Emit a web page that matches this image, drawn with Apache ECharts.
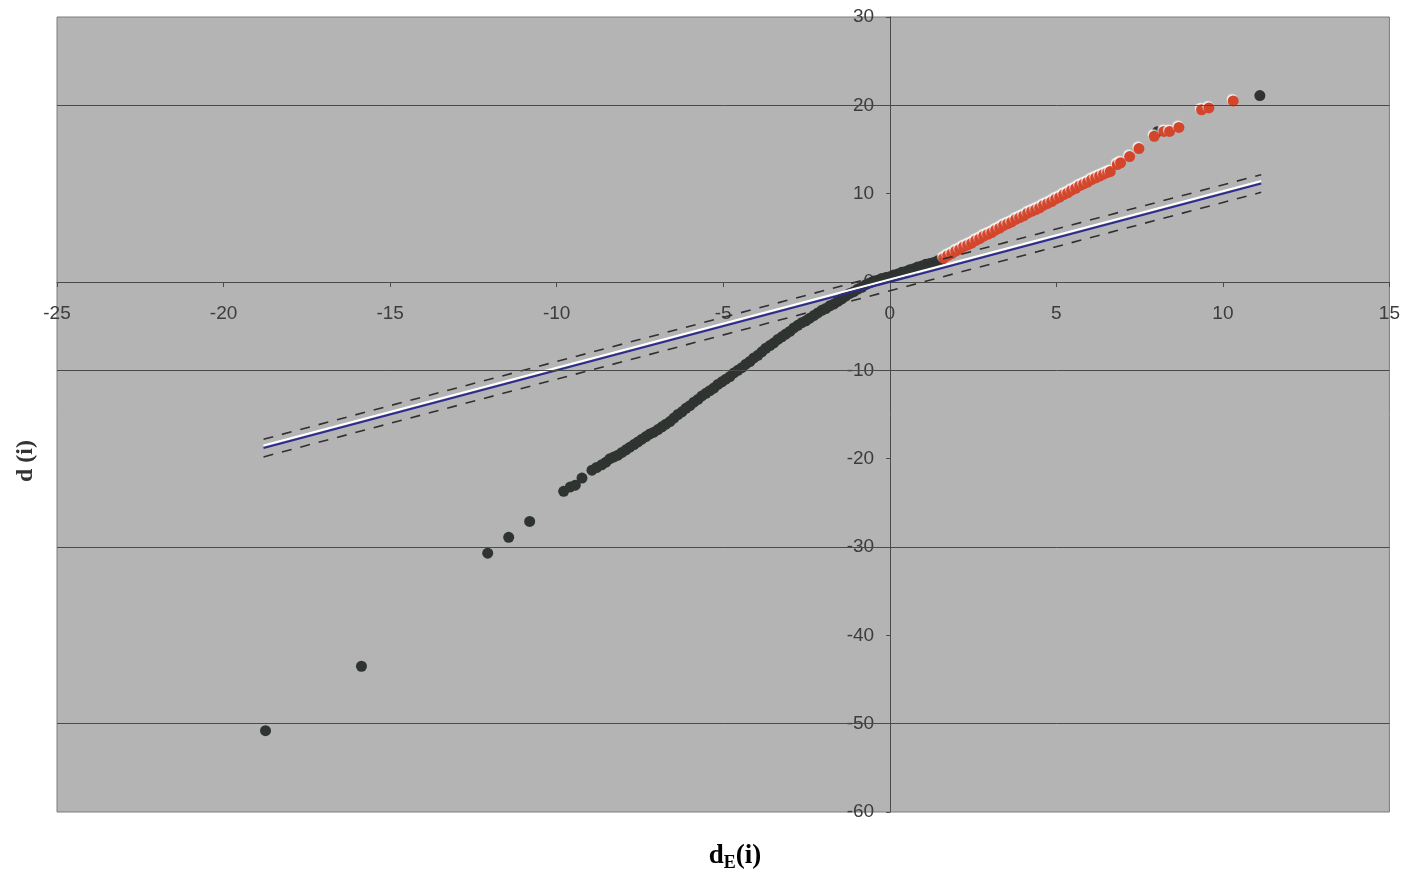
<!DOCTYPE html>
<html>
<head>
<meta charset="utf-8">
<script src="https://cdn.jsdelivr.net/npm/echarts@6/dist/echarts.min.js"></script>
<style>
  html, body { margin: 0; padding: 0; background: #ffffff; }
  #chart { width: 1403px; height: 872px; }
</style>
</head>
<body>
<div id="chart"></div>
<script>
// pontos escuros (d_E(i), d(i))
const darkPoints = [
  [-18.74, -50.8], [-15.86, -43.5], [-12.07, -30.7], [-11.44, -28.9], [-10.81, -27.1],
  [-9.79, -23.7], [-9.59, -23.2], [-9.44, -23.0], [-9.24, -22.2], [-8.94, -21.3],
  [-8.80, -21.0], [-8.65, -20.7], [-8.52, -20.4],
  [-8.40, -20.0], [-8.28, -19.8], [-8.16, -19.6], [-8.04, -19.3], [-7.92, -19.0],
  [-7.80, -18.7], [-7.68, -18.4], [-7.56, -18.1], [-7.44, -17.8], [-7.32, -17.5],
  [-7.20, -17.2], [-7.08, -17.0], [-6.96, -16.7], [-6.84, -16.4], [-6.72, -16.1],
  [-6.60, -15.8], [-6.48, -15.4], [-6.36, -15.0], [-6.24, -14.7], [-6.12, -14.3],
  [-6.00, -14.0], [-5.88, -13.6], [-5.76, -13.3], [-5.64, -12.9], [-5.52, -12.6],
  [-5.40, -12.3], [-5.28, -12.0], [-5.16, -11.6], [-5.04, -11.3], [-4.92, -11.0],
  [-4.80, -10.7], [-4.68, -10.3], [-4.56, -10.0], [-4.44, -9.7], [-4.32, -9.3],
  [-4.20, -9.0], [-4.08, -8.6], [-3.96, -8.3], [-3.84, -7.9], [-3.72, -7.5],
  [-3.60, -7.2], [-3.48, -6.9], [-3.36, -6.5], [-3.24, -6.2], [-3.12, -5.9],
  [-3.00, -5.6], [-2.88, -5.2], [-2.76, -4.9], [-2.64, -4.6], [-2.52, -4.4],
  [-2.40, -4.1], [-2.28, -3.8], [-2.16, -3.5], [-2.04, -3.2], [-1.92, -3.0],
  [-1.80, -2.7], [-1.68, -2.5], [-1.56, -2.2], [-1.44, -1.9], [-1.32, -1.6],
  [-1.20, -1.3], [-1.08, -1.1], [-0.96, -0.8], [-0.84, -0.6], [-0.72, -0.3],
  [-0.60, -0.1], [-0.48, 0.1], [-0.36, 0.2], [-0.24, 0.4], [-0.12, 0.5],
  [0.00, 0.6], [0.12, 0.8], [0.24, 0.9], [0.36, 1.1], [0.48, 1.2],
  [0.60, 1.4], [0.72, 1.5], [0.84, 1.7], [0.96, 1.8], [1.08, 2.0],
  [1.20, 2.1], [1.32, 2.2], [1.44, 2.4], [1.56, 2.5],
  [8.03, 17.0], [11.11, 21.1]
];

// pontos vermelhos
const redPoints = [
  [1.62, 2.7], [1.74, 3.0], [1.86, 3.2], [1.98, 3.5], [2.10, 3.7],
  [2.22, 4.0], [2.34, 4.2], [2.46, 4.4], [2.58, 4.7], [2.70, 4.9],
  [2.82, 5.2], [2.94, 5.4], [3.06, 5.6], [3.18, 5.9], [3.30, 6.1],
  [3.42, 6.4], [3.54, 6.6], [3.66, 6.8], [3.78, 7.1], [3.90, 7.3],
  [4.02, 7.5], [4.14, 7.8], [4.26, 8.0], [4.38, 8.2], [4.50, 8.4],
  [4.62, 8.7], [4.74, 8.9], [4.86, 9.1], [4.98, 9.4], [5.10, 9.6],
  [5.22, 9.9], [5.34, 10.1], [5.46, 10.4], [5.58, 10.6], [5.70, 10.9],
  [5.82, 11.1], [5.94, 11.3], [6.06, 11.6], [6.18, 11.8], [6.30, 12.0],
  [6.42, 12.2], [6.54, 12.4], [6.62, 12.5],
  [6.83, 13.3], [6.93, 13.5], [7.20, 14.2], [7.48, 15.1], [7.94, 16.5],
  [8.23, 17.05], [8.40, 17.05], [8.68, 17.5], [9.36, 19.5], [9.58, 19.7],
  [10.31, 20.5]
];

// reta d = d_E e limites tracejados
const lineX = [-18.8, 11.15];
const lineY = [-18.8, 11.15];
const upperY = [-17.8, 12.15];
const lowerY = [-19.8, 10.15];

// linhas horizontais visíveis na grade
const gridLinesY = [20, -10, -30, -50];

// eixos
const xMin = -25, xMax = 15, xStep = 5;
const yMin = -60, yMax = 30, yStep = 10;

const largura = 1403, altura = 872;
const grade = { left: 57, top: 17, right: 13, bottom: 60 };
const plotW = largura - grade.left - grade.right;
const plotH = altura - grade.top - grade.bottom;
// desloca os eixos para cruzarem em zero (rótulos incluídos)
const offsetEixoY = -plotW * (0 - xMin) / (xMax - xMin);
const offsetEixoX = -plotH * (0 - yMin) / (yMax - yMin);

const chartDom = document.getElementById('chart');
const myChart = echarts.init(chartDom);

const labelStyle = {
  color: '#3c3c3c',
  fontFamily: 'Liberation Sans, Arial, sans-serif',
  fontSize: 19
};

const option = {
  backgroundColor: '#ffffff',
  animation: false,
  grid: {
    ...grade,
    show: true,
    backgroundColor: '#b4b4b5',
    borderColor: '#7c7c7c',
    borderWidth: 1
  },
  xAxis: {
    type: 'value',
    min: xMin,
    max: xMax,
    interval: xStep,
    offset: offsetEixoX,
    axisLine: { onZero: false, lineStyle: { color: '#4a4a4a', width: 1 } },
    axisTick: { show: true, length: 5, lineStyle: { color: '#4a4a4a' } },
    axisLabel: { ...labelStyle, margin: 22 },
    splitLine: { show: false }
  },
  yAxis: {
    type: 'value',
    min: yMin,
    max: yMax,
    interval: yStep,
    offset: offsetEixoY,
    axisLine: { onZero: false, lineStyle: { color: '#4a4a4a', width: 1 } },
    axisTick: { show: true, length: 4, lineStyle: { color: '#4a4a4a' } },
    axisLabel: { ...labelStyle, margin: 16 },
    splitLine: { show: false }
  },
  graphic: [
    {
      type: 'text',
      x: 26,
      y: 461,
      rotation: Math.PI / 2,
      style: {
        text: 'd (i)',
        fontFamily: 'Liberation Serif, Times New Roman, serif',
        fontWeight: 'bold',
        fontSize: 24,
        fill: '#333333',
        textAlign: 'center',
        textVerticalAlign: 'middle'
      }
    },
    {
      type: 'text',
      x: 735,
      y: 856,
      style: {
        text: '{a|d}{b|E}{a|(i)}',
        textAlign: 'center',
        textVerticalAlign: 'middle',
        rich: {
          a: {
            fontFamily: 'Liberation Serif, Times New Roman, serif',
            fontWeight: 'bold',
            fontSize: 27,
            lineHeight: 32,
            color: '#2a2a2a',
            verticalAlign: 'middle'
          },
          b: {
            fontFamily: 'Liberation Serif, Times New Roman, serif',
            fontWeight: 'bold',
            fontSize: 18,
            lineHeight: 32,
            color: '#2a2a2a',
            verticalAlign: 'bottom'
          }
        }
      }
    }
  ],
  series: [
    {
      name: 'grade',
      type: 'line',
      data: [],
      silent: true,
      markLine: {
        silent: true,
        symbol: 'none',
        label: { show: false },
        lineStyle: { color: '#4a4a4a', width: 1, type: 'solid' },
        data: gridLinesY.map((v) => ({ yAxis: v }))
      }
    },
    {
      name: 'limite superior',
      type: 'line',
      data: lineX.map((x, i) => [x, upperY[i]]),
      showSymbol: false,
      lineStyle: { color: '#303030', width: 1.6, type: [10, 9] }
    },
    {
      name: 'limite inferior',
      type: 'line',
      data: lineX.map((x, i) => [x, lowerY[i]]),
      showSymbol: false,
      lineStyle: { color: '#303030', width: 1.6, type: [10, 9] }
    },
    {
      name: 'd = dE',
      type: 'line',
      data: lineX.map((x, i) => [x, lineY[i]]),
      showSymbol: false,
      lineStyle: {
        color: '#2c2c8e',
        width: 2,
        shadowColor: '#ffffff',
        shadowBlur: 0.5,
        shadowOffsetY: -2.5
      }
    },
    {
      name: 'escuros',
      type: 'scatter',
      data: darkPoints,
      symbolSize: 11,
      itemStyle: { color: '#2f3431', opacity: 1 }
    },
    {
      name: 'vermelhos',
      type: 'scatter',
      data: redPoints,
      symbolSize: 11,
      itemStyle: {
        color: '#d4462c',
        opacity: 1,
        shadowColor: 'rgba(255,255,255,0.8)',
        shadowBlur: 1,
        shadowOffsetX: -1,
        shadowOffsetY: -1.5
      }
    }
  ]
};

myChart.setOption(option);
</script>
</body>
</html>
